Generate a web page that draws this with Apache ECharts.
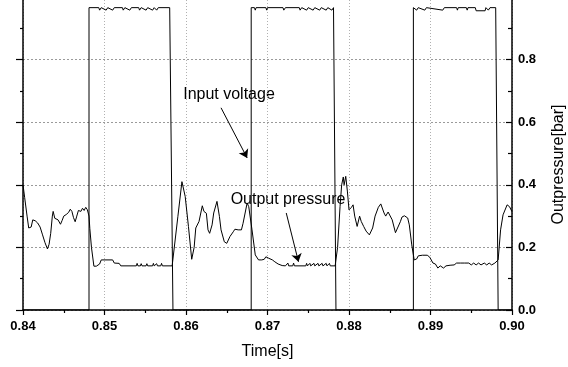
<!DOCTYPE html>
<html>
<head>
<meta charset="utf-8">
<script src="https://cdn.jsdelivr.net/npm/echarts@6/dist/echarts.min.js"></script>
<style>
html,body{margin:0;padding:0;background:#fff;}
#c{width:568px;height:367px;}
</style>
</head>
<body>
<div id="c"></div>
<script>
// X axis ticks (time, s)
var xTicks = [0.84, 0.85, 0.86, 0.87, 0.88, 0.89, 0.90];
// right axis tick labels (output pressure, bar)
var pressureTicks = [0.0, 0.2, 0.4, 0.6, 0.8];

// Input voltage (left axis, labels cropped in reference) : [time, value]
var voltage = [
[0.8400,0],[0.8481,0],[0.8481,4.83],
[0.8493,4.83],[0.8494,4.79],[0.8496,4.83],
[0.8502,4.79],[0.8504,4.83],
[0.8510,4.79],[0.8512,4.83],
[0.8522,4.83],[0.8523,4.79],[0.8525,4.83],
[0.8531,4.79],[0.8533,4.83],
[0.8542,4.83],[0.8543,4.79],[0.8545,4.83],
[0.8551,4.79],[0.8553,4.83],
[0.8559,4.79],[0.8561,4.83],
[0.8564,4.79],[0.8566,4.83],
[0.8580,4.83],[0.8584,0],
[0.8680,0],[0.8680,4.83],
[0.8684,4.83],[0.8685,4.79],[0.8686,4.83],
[0.8698,4.83],[0.8699,4.79],[0.8700,4.83],
[0.8719,4.83],[0.8720,4.79],[0.8722,4.83],
[0.8739,4.83],[0.8740,4.79],[0.8742,4.83],
[0.8748,4.79],[0.8750,4.83],
[0.8756,4.79],[0.8758,4.83],
[0.8764,4.79],[0.8766,4.83],
[0.8772,4.79],[0.8774,4.83],
[0.8779,4.79],[0.8781,4.83],
[0.8784,0],
[0.8879,0],[0.8879,4.83],
[0.8883,4.79],[0.8885,4.83],
[0.8893,4.79],[0.8895,4.83],
[0.8915,4.79],[0.8917,4.83],
[0.8932,4.83],[0.8933,4.79],[0.8934,4.83],
[0.8944,4.83],[0.8945,4.79],[0.8946,4.83],
[0.8955,4.83],[0.8956,4.78],[0.8967,4.78],[0.8968,4.83],
[0.8971,4.79],[0.8973,4.83],
[0.8980,4.83],[0.8983,0],[0.9000,0]
];

// Output pressure (right axis, bar) : [time, value]
var pressure = [
[0.8400,0.400],[0.8402,0.360],[0.8405,0.300],[0.8407,0.262],[0.8410,0.265],
[0.8412,0.288],[0.8415,0.285],[0.8418,0.278],[0.8421,0.265],[0.8424,0.240],
[0.8427,0.215],[0.8430,0.195],[0.8432,0.210],[0.8434,0.245],[0.8436,0.300],
[0.8437,0.315],[0.8439,0.293],[0.8441,0.292],[0.8443,0.288],[0.8446,0.274],
[0.8448,0.286],[0.8450,0.300],[0.8453,0.305],[0.8456,0.312],[0.8458,0.322],
[0.8460,0.315],[0.8462,0.295],[0.8464,0.282],[0.8466,0.300],[0.8468,0.318],
[0.8471,0.315],[0.8473,0.325],[0.8475,0.318],[0.8477,0.328],[0.8479,0.320],
[0.8481,0.300],[0.8482,0.260],[0.8484,0.200],[0.8487,0.140],[0.8488,0.134],
[0.8490,0.140],[0.8494,0.147],[0.8496,0.160],[0.8510,0.160],[0.8512,0.150],
[0.8518,0.149],[0.8520,0.141],
[0.8535,0.141],[0.8539,0.141],[0.8540,0.149],[0.8541,0.141],[0.8544,0.141],
[0.8545,0.148],[0.8546,0.141],[0.8551,0.141],[0.8552,0.148],[0.8553,0.141],
[0.8559,0.141],[0.8560,0.149],[0.8561,0.141],[0.8563,0.141],[0.8564,0.148],
[0.8565,0.141],[0.8569,0.141],[0.8570,0.149],[0.8571,0.141],[0.8583,0.141],
[0.8590,0.298],[0.8595,0.410],[0.8599,0.363],[0.8603,0.267],[0.8607,0.162],
[0.8610,0.200],[0.8612,0.262],[0.8616,0.283],[0.8620,0.333],[0.8622,0.315],
[0.8625,0.309],[0.8627,0.256],[0.8629,0.245],[0.8632,0.272],[0.8634,0.310],
[0.8638,0.347],[0.8641,0.299],[0.8643,0.256],[0.8647,0.218],[0.8650,0.213],
[0.8654,0.235],[0.8658,0.250],[0.8660,0.258],[0.8664,0.256],[0.8668,0.256],
[0.8670,0.277],[0.8675,0.342],[0.8677,0.330],[0.8681,0.256],[0.8685,0.176],
[0.8689,0.160],[0.8693,0.160],[0.8696,0.162],[0.8698,0.170],[0.8701,0.166],
[0.8703,0.171],[0.8706,0.160],[0.8709,0.154],[0.8713,0.147],[0.8718,0.142],
[0.8722,0.141],[0.8724,0.141],[0.8725,0.150],[0.8726,0.141],[0.8731,0.141],
[0.8732,0.150],[0.8733,0.141],[0.8747,0.141],[0.8748,0.149],[0.8749,0.141],
[0.8752,0.149],[0.8753,0.141],[0.8757,0.149],[0.8758,0.141],[0.8762,0.149],
[0.8763,0.141],[0.8767,0.149],[0.8768,0.141],[0.8772,0.149],[0.8773,0.141],
[0.8776,0.149],[0.8777,0.141],[0.8783,0.141],
[0.8786,0.200],[0.8789,0.330],[0.8791,0.400],[0.8793,0.425],[0.8794,0.400],
[0.8796,0.427],[0.8798,0.380],[0.8800,0.320],[0.8803,0.328],[0.8805,0.336],
[0.8807,0.300],[0.8810,0.267],[0.8813,0.300],[0.8815,0.283],[0.8818,0.267],
[0.8821,0.252],[0.8825,0.240],[0.8829,0.262],[0.8832,0.300],[0.8836,0.328],
[0.8839,0.339],[0.8843,0.310],[0.8845,0.300],[0.8848,0.313],[0.8850,0.315],
[0.8853,0.288],[0.8857,0.247],[0.8859,0.250],[0.8863,0.282],[0.8865,0.297],
[0.8868,0.301],[0.8872,0.294],[0.8874,0.272],[0.8877,0.208],[0.8880,0.160],
[0.8883,0.163],[0.8885,0.173],[0.8890,0.175],[0.8896,0.175],[0.8899,0.169],
[0.8903,0.150],[0.8906,0.147],[0.8909,0.134],[0.8912,0.141],[0.8916,0.134],
[0.8919,0.141],[0.8924,0.143],[0.8929,0.144],
[0.8932,0.150],[0.8934,0.144],[0.8937,0.150],[0.8939,0.144],[0.8942,0.150],
[0.8944,0.144],[0.8947,0.150],[0.8950,0.144],[0.8953,0.150],[0.8956,0.144],
[0.8959,0.150],[0.8962,0.144],[0.8966,0.150],[0.8969,0.144],[0.8972,0.150],
[0.8975,0.144],[0.8979,0.150],[0.8981,0.144],
[0.8983,0.160],[0.8986,0.256],[0.8989,0.304],[0.8994,0.336],[0.8997,0.330],
[0.9000,0.314]
];

// annotation arrows in data coords (pressure axis)
var arrowVoltage = [[0.8643, 0.646], [0.8675, 0.486]];
var arrowPressure = [[0.8723, 0.310], [0.8738, 0.154]];

var FONT = "'Liberation Sans', Arial, sans-serif";
var chart = echarts.init(document.getElementById('c'), null, {renderer: 'canvas'});

chart.setOption({
  animation: false,
  backgroundColor: '#ffffff',
  grid: {left: 23, right: 56, top: -3, bottom: 57, containLabel: false, outerBoundsMode: 'none'},
  xAxis: {
    type: 'value',
    min: xTicks[0], max: xTicks[xTicks.length - 1], interval: 0.01,
    name: 'Time[s]', nameLocation: 'middle', nameGap: 34,
    nameTextStyle: {fontFamily: FONT, fontSize: 16, color: '#000'},
    axisLine: {show: true, onZero: false, lineStyle: {color: '#000', width: 1.5}},
    axisTick: {show: true, inside: false, length: 5, lineStyle: {color: '#000', width: 1.2}},
    minorTick: {show: true, splitNumber: 2, length: 3, lineStyle: {color: '#000', width: 1.2}},
    axisLabel: {margin: 10, fontFamily: FONT, fontSize: 13, fontWeight: 'bold', color: '#000',
      formatter: function (v) { return v.toFixed(2); }},
    splitLine: {show: true, lineStyle: {color: '#b0b0b0', type: [1, 2], width: 1}}
  },
  yAxis: [
    {
      type: 'value', position: 'left', min: 0, max: 5, interval: 1,
      axisLine: {show: true, onZero: false, lineStyle: {color: '#000', width: 1.5}},
      axisTick: {show: true, inside: false, length: 7, lineStyle: {color: '#000', width: 1.2}},
      minorTick: {show: true, splitNumber: 2, length: 3, lineStyle: {color: '#000', width: 1.2}},
      axisLabel: {show: false},
      splitLine: {show: false}
    },
    {
      type: 'value', position: 'right', min: 0, max: 1, interval: 0.2,
      name: 'Outpressure[bar]', nameLocation: 'middle', nameGap: 39, nameRotate: 90,
      nameTextStyle: {fontFamily: FONT, fontSize: 16, color: '#000', padding: [0, 22, 0, 0]},
      axisLine: {show: true, onZero: false, lineStyle: {color: '#000', width: 1.5}},
      axisTick: {show: true, inside: true, length: 6, lineStyle: {color: '#000', width: 1.2}},
      minorTick: {show: true, splitNumber: 2, length: 4, lineStyle: {color: '#000', width: 1.2}},
      axisLabel: {margin: 6, fontFamily: FONT, fontSize: 13, fontWeight: 'bold', color: '#000',
        showMaxLabel: false,
        formatter: function (v) { return pressureTicks.indexOf(+v.toFixed(1)) >= 0 ? v.toFixed(1) : ''; }},
      splitLine: {show: true, lineStyle: {color: '#9a9a9a', type: [2, 2], width: 1}}
    }
  ],
  series: [
    {
      name: 'Input voltage', type: 'line', yAxisIndex: 0, data: voltage,
      showSymbol: false, symbol: 'none', smooth: false,
      lineStyle: {color: '#000', width: 1}
    },
    {
      name: 'Output pressure', type: 'line', yAxisIndex: 1, data: pressure,
      showSymbol: false, symbol: 'none', smooth: false,
      lineStyle: {color: '#000', width: 1},
      markLine: {
        silent: true, symbol: ['none', 'arrow'], symbolSize: 8, precision: 5,
        label: {show: false},
        lineStyle: {color: '#000', width: 1, type: 'solid'},
        emphasis: {disabled: true},
        data: [
          [{coord: arrowVoltage[0]}, {coord: arrowVoltage[1]}],
          [{coord: arrowPressure[0]}, {coord: arrowPressure[1]}]
        ]
      }
    }
  ],
  graphic: [
    {type: 'text', x: 229, y: 95, silent: true,
      style: {text: 'Input voltage', font: '16px ' + FONT, fill: '#000',
        align: 'center', verticalAlign: 'middle', textAlign: 'center', textVerticalAlign: 'middle'}},
    {type: 'text', x: 288, y: 200, silent: true,
      style: {text: 'Output pressure', font: '16px ' + FONT, fill: '#000',
        align: 'center', verticalAlign: 'middle', textAlign: 'center', textVerticalAlign: 'middle'}}
  ]
});
</script>
</body>
</html>
